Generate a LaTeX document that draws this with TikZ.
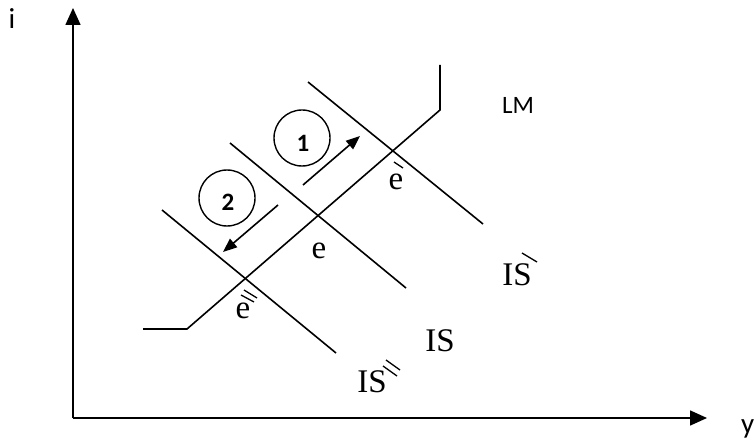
\documentclass[tikz,border=0pt]{standalone}
\usepackage{fontspec}
\setmainfont{Liberation Serif}
\newfontfamily\labelsans{Carlito}
\usetikzlibrary{arrows.meta}

\tikzset{
  curve/.style={line width=1.6pt, line join=miter},
  axis/.style={line width=1.6pt, -{Triangle[length=17pt,width=15pt]}},
  shift arrow/.style={line width=1.6pt, -{Triangle[length=14pt,width=11pt]}},
  step circle/.style={circle, draw, line width=1.4pt, minimum size=56pt, inner sep=0pt},
  step num/.style={font=\labelsans\bfseries\fontsize{25}{28}\selectfont, inner sep=0pt},
  serif label/.style={font=\fontsize{33}{36}\selectfont, inner sep=0pt},
  sans label/.style={font=\labelsans\fontsize{25}{28}\selectfont, inner sep=0pt},
  axis label/.style={font=\labelsans\fontsize{29}{32}\selectfont, inner sep=0pt},
  prime/.style={line width=1.3pt}
}

\begin{document}
\begin{tikzpicture}[x=1pt, y=-1pt]
  \useasboundingbox (0,0) rectangle (754,446);

  % axes
  \coordinate (O) at (73,418);
  \coordinate (itop) at (73,8);
  \coordinate (yend) at (707,418);
  \draw[axis] (O) -- (itop);
  \draw[axis] (O) -- (yend);
  \node[axis label] (ilab) at (12,19) {i};
  \node[axis label, anchor=base west] (ylab) at (741,433) {y};

  % LM curve: flat, rising, vertical
  \coordinate (lm0) at (143,329);
  \coordinate (lm1) at (187,329);
  \coordinate (lm2) at (440,110);
  \coordinate (lm3) at (440,65);
  \draw[curve] (lm0) -- (lm1) -- (lm2) -- (lm3);
  \node[sans label] (lmlab) at (518,105) {LM};

  % IS curves
  \coordinate (isA0) at (308,82);
  \coordinate (isA1) at (483,224);
  \coordinate (isB0) at (230,143);
  \coordinate (isB1) at (406,288);
  \coordinate (isC0) at (162,210);
  \coordinate (isC1) at (336,353);
  \draw[curve] (isA0) -- (isA1);
  \draw[curve] (isB0) -- (isB1);
  \draw[curve] (isC0) -- (isC1);

  % IS labels
  \node[serif label] (isAlab) at (517,275) {IS};
  \draw[prime] (522,253) -- (537,262);
  \node[serif label] (isBlab) at (440,341) {IS};
  \node[serif label] (isClab) at (372,382) {IS};
  \draw[prime] (386,360) -- (400,370);
  \draw[prime] (383,366) -- (397,376);

  % equilibrium labels
  \node[serif label] (e1) at (396,182) {e};
  \draw[prime] (394,162) -- (403,168);
  \node[serif label] (e0) at (319,251) {e};
  \node[serif label] (e2) at (243,311) {e};
  \draw[prime] (244,290) -- (257,298);
  \draw[prime] (241,295) -- (254,302);

  % shift arrows with step numbers
  \coordinate (a1s) at (303,185);
  \coordinate (a1e) at (360,136);
  \draw[shift arrow] (a1s) -- (a1e);
  \node[step circle] (c1) at (302,138) {};
  \node[step num] (n1) at (303,143) {1};

  \coordinate (a2s) at (278,205);
  \coordinate (a2e) at (223,252);
  \draw[shift arrow] (a2s) -- (a2e);
  \node[step circle] (c2) at (227,198) {};
  \node[step num] (n2) at (228,202) {2};
\end{tikzpicture}
\end{document}
